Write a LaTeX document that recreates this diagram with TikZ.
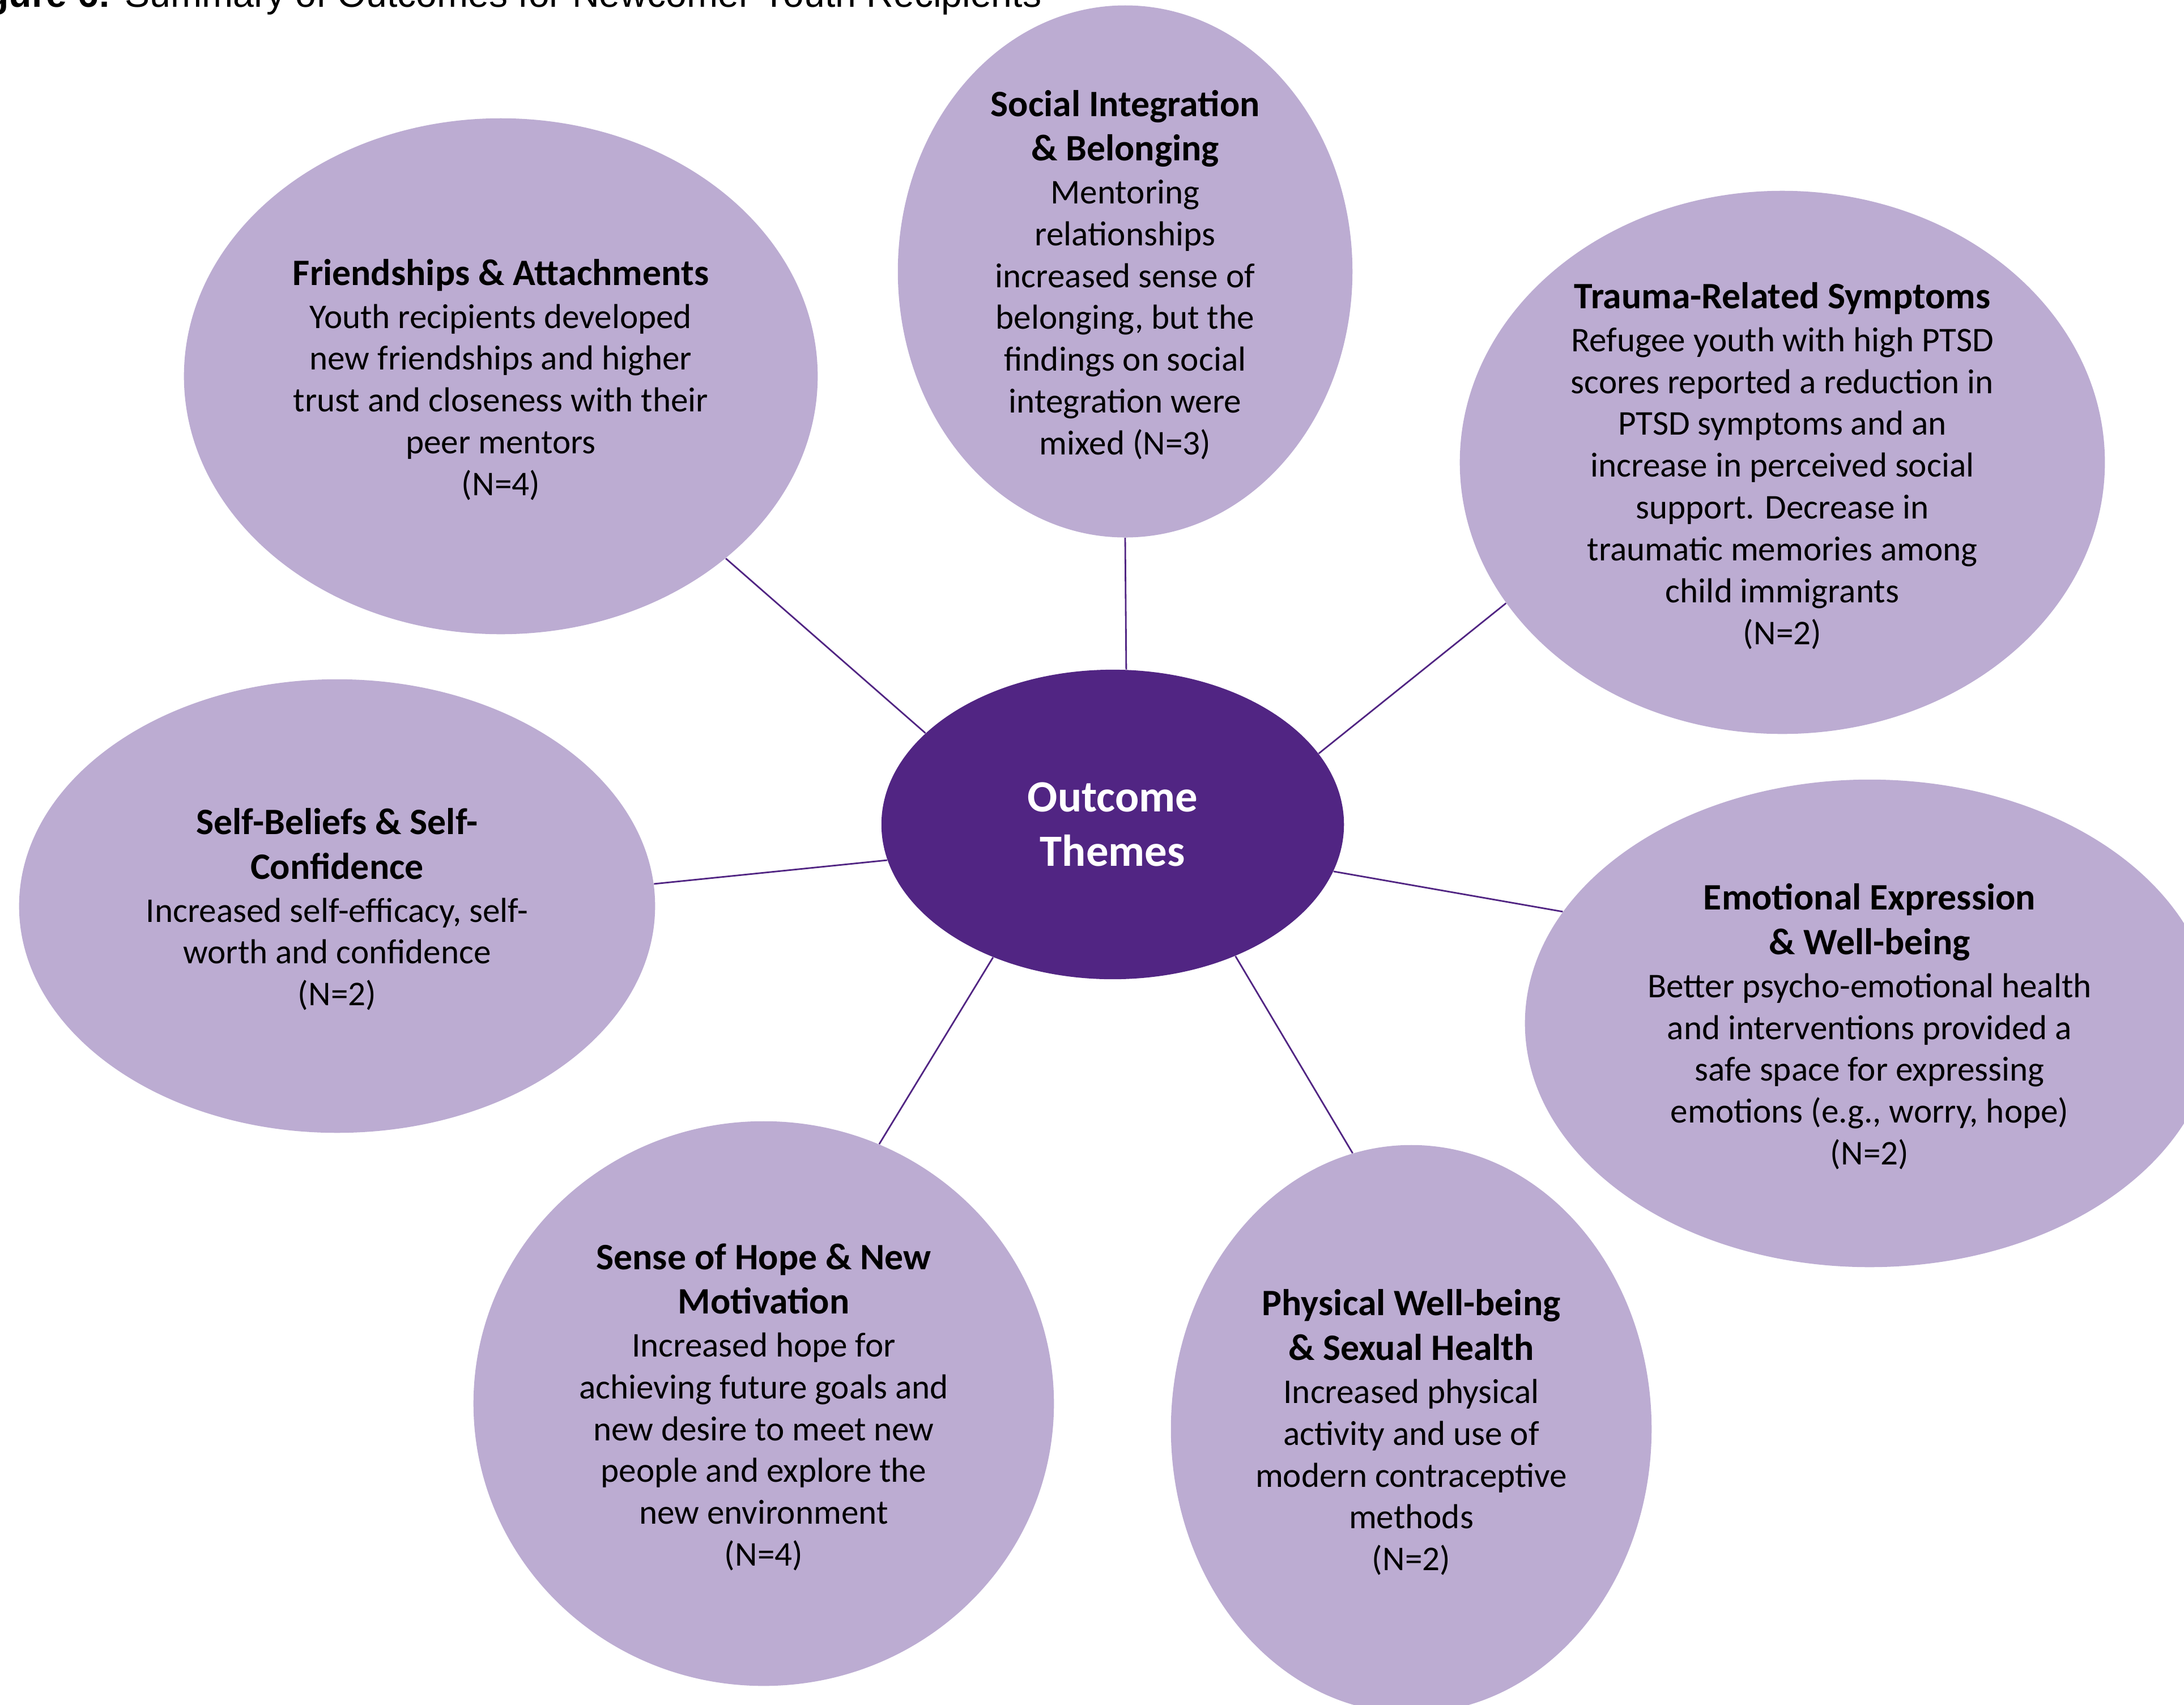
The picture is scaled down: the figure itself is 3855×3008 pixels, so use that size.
\documentclass[tikz,border=0pt]{standalone}
\usepackage{fontspec}
\setmainfont{Carlito}
\newfontfamily\arialfont{Liberation Sans}
\usetikzlibrary{shapes.geometric}

\definecolor{lilac}{RGB}{188,172,210}
\definecolor{grape}{RGB}{81,37,131}
\newcommand{\hd}[1]{{\bfseries\fontsize{18.7}{22.4}\selectfont #1}}
\newcommand{\lift}{\rule{0pt}{16.5pt}}

\begin{document}
\begin{tikzpicture}[x=0.01cm, y=-0.01cm,
    outcome/.style={ellipse, fill=lilac, inner sep=0pt, align=center,
      font=\fontsize{17.4}{21}\selectfont},
    hub/.style={ellipse, fill=grape, inner sep=0pt, align=center, text=white,
      font=\bfseries\fontsize{22.4}{27.2}\selectfont},
    spoke/.style={draw=grape, line width=0.8pt}]

    \clip (0,0) rectangle (3855,3008);

    % Title (cut off at the top)
    \node[anchor=base east, inner sep=0pt, font=\arialfont\fontsize{18.8}{22}\selectfont]
      (title) at (1839,12) {\textbf{Figure 6:} Summary of Outcomes for Newcomer Youth Recipients};

    % Centre
    \node[hub, minimum width=8.16cm, minimum height=5.46cm] (theme) at (1964,1455)
      {Outcome\\Themes};

    % Outcome bubbles
    \node[outcome, minimum width=11.18cm, minimum height=9.10cm] (friend) at (884,664)
      {\lift\hd{Friendships \& Attachments}\\[0.6pt]
       Youth recipients developed\\new friendships and higher\\
       trust and closeness with their\\peer mentors\\(N=4)};
    \node[outcome, minimum width=8.02cm, minimum height=8.94cm] (social) at (1986,479)
      {\lift\hd{Social Integration}\\[1.3pt]\hd{\& Belonging}\\[0.6pt]
       Mentoring\\relationships\\increased sense of\\belonging, but the\\
       findings on social\\integration were\\mixed (N=3)};
    \node[outcome, minimum width=11.38cm, minimum height=9.58cm] (trauma) at (3146,816)
      {\lift\hd{Trauma-Related Symptoms}\\[0.6pt]
       Refugee youth with high PTSD\\scores reported a reduction in\\
       PTSD symptoms and an\\increase in perceived social\\support. Decrease in\\
       traumatic memories among\\child immigrants\\(N=2)};
    \node[outcome, minimum width=11.22cm, minimum height=8.00cm] (selfb) at (595,1599)
      {\lift\hd{Self-Beliefs \& Self-}\\[1.3pt]\hd{Confidence}\\[0.6pt]
       Increased self-efficacy, self-\\worth and confidence\\(N=2)};
    \node[outcome, minimum width=12.16cm, minimum height=8.60cm] (emotion) at (3300,1806)
      {\lift\hd{Emotional Expression}\\[1.3pt]\hd{\& Well-being}\\[0.6pt]
       Better psycho-emotional health\\and interventions provided a\\
       safe space for expressing\\emotions (e.g., worry, hope)\\(N=2)};
    \node[outcome, minimum width=10.24cm, minimum height=9.96cm] (hope) at (1348,2477)
      {\lift\hd{Sense of Hope \& New}\\[1.3pt]\hd{Motivation}\\[0.6pt]
       Increased hope for\\achieving future goals and\\new desire to meet new\\
       people and explore the\\new environment\\(N=4)};
    \node[outcome, minimum width=8.48cm, minimum height=10.02cm] (physical) at (2491,2522)
      {\lift\hd{Physical Well-being}\\[1.3pt]\hd{\& Sexual Health}\\[0.6pt]
       Increased physical\\activity and use of\\modern contraceptive\\methods\\(N=2)};

    % Spokes to the centre
    \foreach \n/\a/\b in {social/-90/85.5, friend/-39/154, trauma/207/19.6,
      selfb/4.8/189.5, emotion/160.8/-12.5, hope/66.5/228.9, physical/102/-47.4} {
      \draw[spoke] (\n.\a) -- (theme.\b);
    }

\end{tikzpicture}
\end{document}
